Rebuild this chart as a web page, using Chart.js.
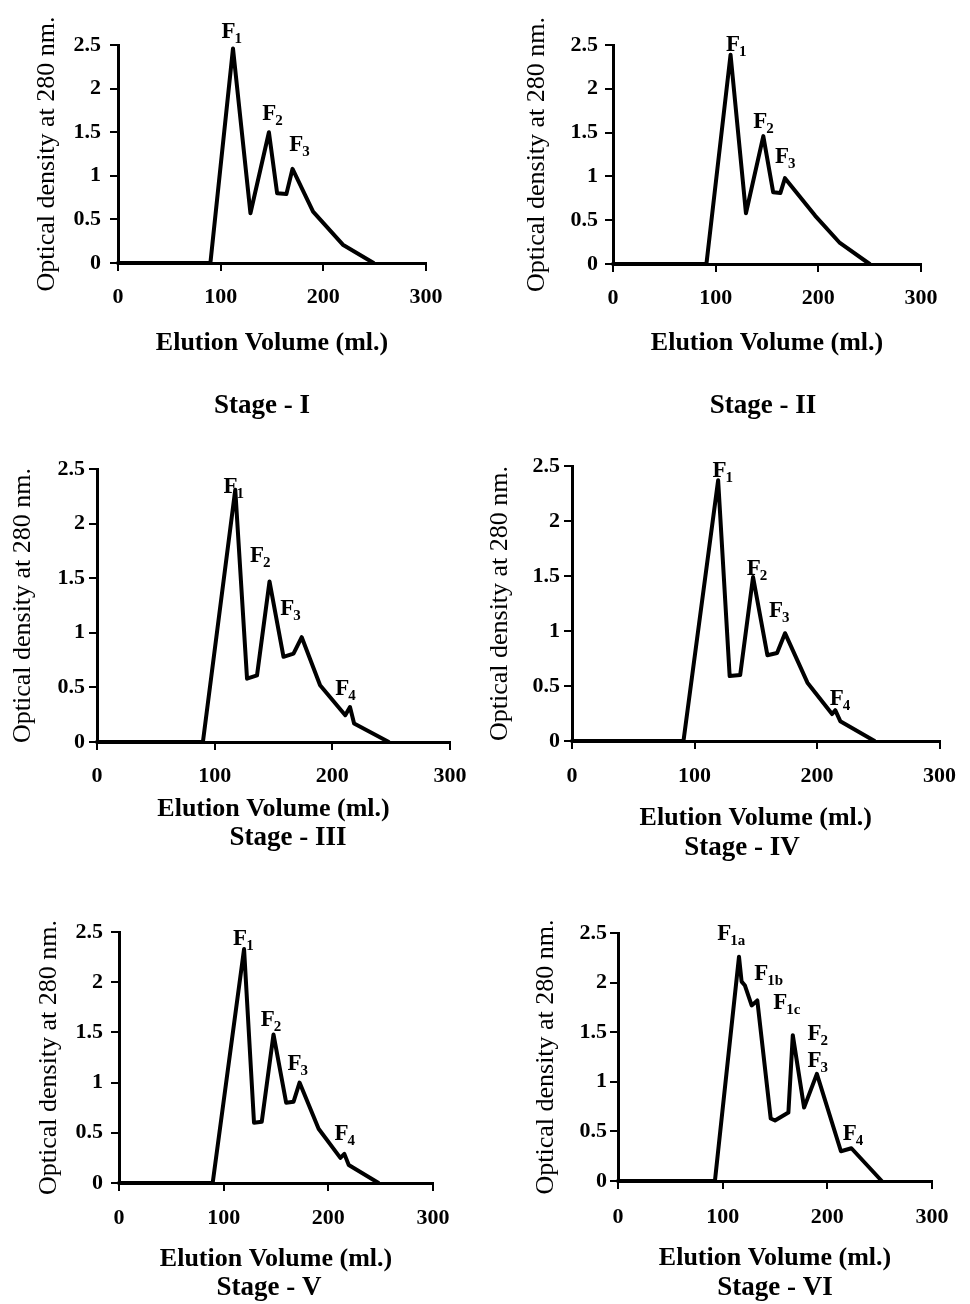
<!DOCTYPE html>
<html>
<head>
<style>
  body { margin: 0; background: #fff; }
  #page { position: relative; width: 970px; height: 1304px; overflow: hidden; background: #fff; }
  #page canvas { position: absolute; }
</style>
</head>
<body>
<div id="page">
  <canvas id="c1"></canvas>
  <canvas id="c2"></canvas>
  <canvas id="c3"></canvas>
  <canvas id="c4"></canvas>
  <canvas id="c5"></canvas>
  <canvas id="c6"></canvas>
</div>

<script src="https://cdn.jsdelivr.net/npm/chart.js"></script>
<script>
// ---- data ----
const xTicks = [0, 100, 200, 300];
const yTicks = [0, 0.5, 1, 1.5, 2, 2.5];
const xTitle = 'Elution Volume (ml.)';
const yTitle = 'Optical density at 280 nm.';
const stageNames = ['Stage - I', 'Stage - II', 'Stage - III', 'Stage - IV', 'Stage - V', 'Stage - VI'];

const stage1X = [0, 90, 112, 129, 147, 155, 164, 170, 190, 219, 249];
const stage1Y = [0, 0, 2.46, 0.57, 1.50, 0.80, 0.79, 1.08, 0.59, 0.21, 0];

const stage2X = [0, 91, 114.5, 129.5, 146.4, 156, 163, 167.5, 197, 221, 250];
const stage2Y = [0, 0, 2.39, 0.58, 1.46, 0.82, 0.81, 0.98, 0.55, 0.24, 0];

const stage3X = [0, 90, 117.5, 127.5, 136, 146.6, 158.5, 167, 174, 189.6, 211, 215, 218.5, 248];
const stage3Y = [0, 0, 2.31, 0.58, 0.61, 1.47, 0.78, 0.81, 0.96, 0.52, 0.245, 0.32, 0.17, 0];

const stage4X = [0, 91, 119.3, 128.7, 137.3, 147.8, 159.5, 167.4, 173.9, 192.2, 212.3, 214.9, 219, 247];
const stage4Y = [0, 0, 2.37, 0.59, 0.60, 1.49, 0.78, 0.80, 0.98, 0.53, 0.245, 0.28, 0.18, 0];

const stage5X = [0, 89.5, 119.5, 129, 136.4, 147.6, 159.7, 166.8, 172.5, 190.7, 211.5, 215.3, 219.5, 248];
const stage5Y = [0, 0, 2.33, 0.60, 0.61, 1.48, 0.80, 0.81, 1.00, 0.54, 0.25, 0.29, 0.18, 0];

const stage6X = [0, 92.6, 115.6, 118.1, 121.3, 127.7, 133.1, 145.9, 150, 162.8, 167, 177.8, 190, 213, 223, 252];
const stage6Y = [0, 0, 2.26, 2.01, 1.97, 1.77, 1.82, 0.63, 0.61, 0.69, 1.47, 0.74, 1.08, 0.30, 0.33, 0];

// peak labels: subscript, and where the "F" sits (data units)
const peaks1Sub = ['1', '2', '3'];
const peaks1X = [100.7, 140.4, 166.7];
const peaks1Y = [2.58, 1.64, 1.28];

const peaks2Sub = ['1', '2', '3'];
const peaks2X = [110, 136.6, 157.7];
const peaks2Y = [2.43, 1.55, 1.15];

const peaks3Sub = ['1', '2', '3', '4'];
const peaks3X = [107.5, 130, 155.7, 202.4];
const peaks3Y = [2.28, 1.65, 1.16, 0.43];

const peaks4Sub = ['1', '2', '3', '4'];
const peaks4X = [114.6, 142.6, 160.8, 210.4];
const peaks4Y = [2.40, 1.51, 1.13, 0.33];

const peaks5Sub = ['1', '2', '3', '4'];
const peaks5X = [109, 135.5, 161, 205.8];
const peaks5Y = [2.37, 1.56, 1.13, 0.43];

const peaks6Sub = ['1a', '1b', '1c', '2', '3', '4'];
const peaks6X = [94.8, 130.2, 148.4, 181, 181, 214.8];
const peaks6Y = [2.43, 2.03, 1.73, 1.42, 1.15, 0.41];

// ---- page layout (page pixels) ----
const FONT = '"Liberation Serif", "Times New Roman", serif';
const panels = [
  { id: 'c1', left: 0,   top: 0,   w: 485, h: 435, area: [118, 426, 45, 263],  yTitleX: 47,  xTitleY: 343,  stageX: 262, stageY: 406,  yPad: 9, xPad: 13, xs: stage1X, ys: stage1Y, ps: peaks1Sub, px: peaks1X, py: peaks1Y },
  { id: 'c2', left: 485, top: 0,   w: 485, h: 435, area: [613, 921, 45, 264],  yTitleX: 537, xTitleY: 343,  stageX: 763, stageY: 406,  yPad: 7,  xPad: 13, xs: stage2X, ys: stage2Y, ps: peaks2Sub, px: peaks2X, py: peaks2Y },
  { id: 'c3', left: 0,   top: 435, w: 485, h: 435, area: [97, 450, 469, 742],  yTitleX: 23,  xTitleY: 809,  stageX: 288, stageY: 838,  yPad: 4,  xPad: 13, xs: stage3X, ys: stage3Y, ps: peaks3Sub, px: peaks3X, py: peaks3Y },
  { id: 'c4', left: 485, top: 435, w: 485, h: 435, area: [572, 950, 466, 741], yTitleX: 500, xTitleY: 818,  stageX: 742, stageY: 848,  yPad: 4,  xPad: 14, xs: stage4X, ys: stage4Y, ps: peaks4Sub, px: peaks4X, py: peaks4Y },
  { id: 'c5', left: 0,   top: 870, w: 485, h: 434, area: [119, 433, 932, 1183], yTitleX: 49, xTitleY: 1259, stageX: 269, stageY: 1288, yPad: 8,  xPad: 14, xs: stage5X, ys: stage5Y, ps: peaks5Sub, px: peaks5X, py: peaks5Y },
  { id: 'c6', left: 485, top: 870, w: 485, h: 434, area: [618, 932, 933, 1181], yTitleX: 546, xTitleY: 1258, stageX: 775, stageY: 1288, yPad: 3,  xPad: 15, xs: stage6X, ys: stage6Y, ps: peaks6Sub, px: peaks6X, py: peaks6Y }
];

// y title, stage caption and peak names
function textPlugin(p, stage) {
  return {
    id: 'panelText',
    afterDraw(chart) {
      const c = chart.ctx;
      const a = chart.chartArea;
      c.save();
      c.fillStyle = '#000';

      c.save();
      c.translate(p.yTitleX - p.left, (a.top + a.bottom) / 2);
      c.rotate(-Math.PI / 2);
      c.font = '26px ' + FONT;
      c.textAlign = 'center';
      c.textBaseline = 'middle';
      c.fillText(yTitle, 0, 0);
      c.restore();

      c.font = 'bold 27px ' + FONT;
      c.textAlign = 'center';
      c.textBaseline = 'middle';
      c.fillText(stage, p.stageX - p.left, p.stageY - p.top);

      c.textAlign = 'left';
      c.textBaseline = 'alphabetic';
      p.ps.forEach((sub, i) => {
        const x = chart.scales.x.getPixelForValue(p.px[i]);
        const y = chart.scales.y.getPixelForValue(p.py[i]);
        c.font = 'bold 23px ' + FONT;
        c.fillText('F', x, y);
        const w = c.measureText('F').width;
        c.font = 'bold 15px ' + FONT;
        c.fillText(sub, x + w - 1, y + 5);
      });
      c.restore();
    }
  };
}

panels.forEach((p, k) => {
  const cv = document.getElementById(p.id);
  cv.width = p.w;
  cv.height = p.h;
  cv.style.left = p.left + 'px';
  cv.style.top = p.top + 'px';

  const [aL, aR, aT, aB] = p.area;
  const yw = aL - p.left;
  const xh = p.xTitleY + 15.6 - aB;
  const padTop = aT - p.top;
  const padRight = p.left + p.w - aR;
  const padBottom = p.top + p.h - aB - xh;

  const points = p.xs.map((x, i) => ({ x: x, y: p.ys[i] }));

  new Chart(cv.getContext('2d'), {
    type: 'line',
    data: {
      datasets: [{
        data: points,
        borderColor: '#000',
        borderWidth: 4,
        borderJoinStyle: 'round',
        borderCapStyle: 'round',
        pointRadius: 0,
        tension: 0,
        fill: false,
        clip: false
      }]
    },
    options: {
      responsive: false,
      animation: false,
      devicePixelRatio: 1,
      layout: { padding: { left: 0, top: padTop, right: padRight, bottom: padBottom } },
      plugins: { legend: { display: false }, tooltip: { enabled: false } },
      scales: {
        x: {
          type: 'linear',
          min: xTicks[0],
          max: xTicks[xTicks.length - 1],
          afterBuildTicks: s => { s.ticks = xTicks.map(v => ({ value: v })); },
          afterFit: s => { s.height = xh; },
          border: { display: true, color: '#000', width: 3 },
          grid: { display: true, drawOnChartArea: false, drawTicks: true, tickLength: 8, color: '#000', lineWidth: 2 },
          ticks: { color: '#000', padding: p.xPad, maxRotation: 0, callback: v => String(v), font: { family: FONT, size: 22, weight: 'bold' } },
          title: { display: true, text: xTitle, color: '#000', padding: 0, font: { family: FONT, size: 26, weight: 'bold' } }
        },
        y: {
          type: 'linear',
          min: yTicks[0],
          max: yTicks[yTicks.length - 1],
          afterBuildTicks: s => { s.ticks = yTicks.map(v => ({ value: v })); },
          afterFit: s => { s.width = yw; },
          border: { display: true, color: '#000', width: 3 },
          grid: { display: true, drawOnChartArea: false, drawTicks: true, tickLength: 8, color: '#000', lineWidth: 2 },
          ticks: { color: '#000', padding: p.yPad, callback: v => String(v), font: { family: FONT, size: 22, weight: 'bold' } }
        }
      }
    },
    plugins: [textPlugin(p, stageNames[k])]
  });
});
</script>
</body>
</html>
